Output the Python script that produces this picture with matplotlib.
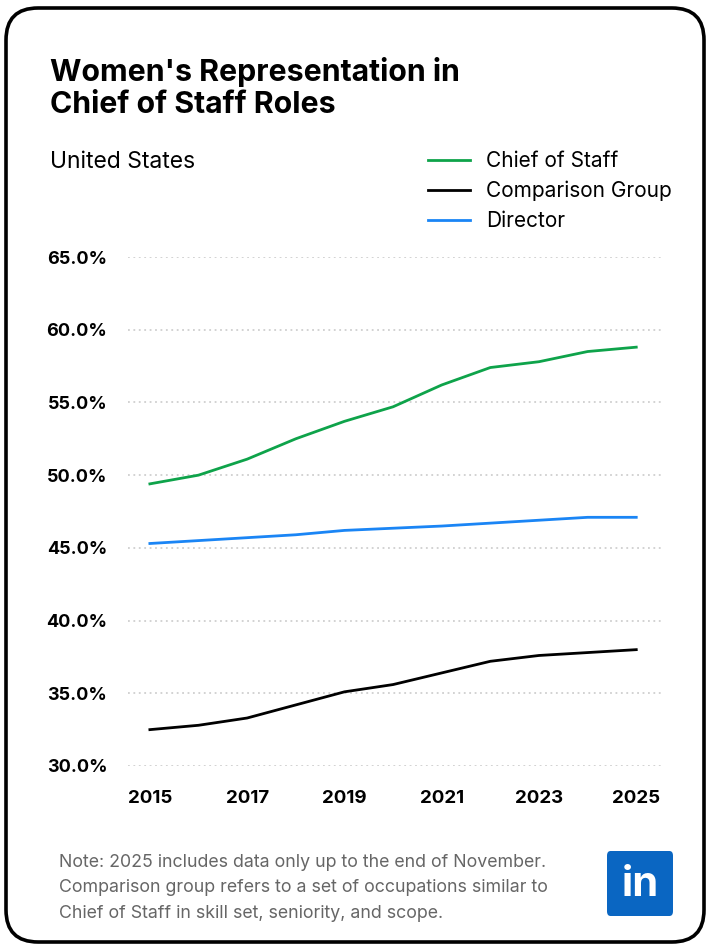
import matplotlib
matplotlib.use("Agg")
import matplotlib.pyplot as plt
from matplotlib.patches import FancyBboxPatch

years = [2015, 2016, 2017, 2018, 2019, 2020, 2021, 2022, 2023, 2024, 2025]
chief_of_staff = [49.4, 50.0, 51.1, 52.5, 53.7, 54.7, 56.2, 57.4, 57.8, 58.5, 58.8]
comparison_group = [32.5, 32.8, 33.3, 34.2, 35.1, 35.6, 36.4, 37.2, 37.6, 37.8, 38.0]
director = [45.3, 45.5, 45.7, 45.9, 46.2, 46.35, 46.5, 46.7, 46.9, 47.1, 47.1]
x_ticks = [2015, 2017, 2019, 2021, 2023, 2025]
y_ticks = [30, 35, 40, 45, 50, 55, 60, 65]

plt.rcParams['font.family'] = ['Inter', 'DejaVu Sans']

W, H = 713, 950
fig = plt.figure(figsize=(W / 100, H / 100), dpi=100)

# card border
card = FancyBboxPatch((6 / W, 8 / H), (W - 9) / W - 6 / W, (H - 6) / H - 8 / H - 2 / H,
                      boxstyle="round,pad=0,rounding_size=0.045",
                      transform=fig.transFigure, facecolor='white', edgecolor='black',
                      linewidth=2.6, mutation_aspect=W / H, zorder=-5)
fig.patches.append(card)

ax = fig.add_axes([128 / W, (H - 766) / H, (663 - 128) / W, (766 - 257) / H])
ax.set_facecolor('none')
ax.set_zorder(2)

ax.plot(years, chief_of_staff, color='#0EA34A', lw=2.0, label='Chief of Staff')
ax.plot(years, comparison_group, color='black', lw=2.0, label='Comparison Group')
ax.plot(years, director, color='#1A85F5', lw=2.0, label='Director')

ax.set_ylim(30, 65)
ax.set_xlim(2014.55, 2025.55)
ax.set_yticks(y_ticks)
ax.set_yticklabels([f"{v:.1f}%" for v in y_ticks], fontsize=13, fontweight='bold')
ax.set_xticks(x_ticks)
ax.set_xticklabels([str(v) for v in x_ticks], fontsize=13.5, fontweight='bold')
ax.tick_params(axis='y', length=0, pad=15)
ax.tick_params(axis='x', length=0, pad=17)
for s in ax.spines.values():
    s.set_visible(False)
ax.grid(axis='y', color='#cfcfcf', lw=1.3, linestyle=(0, (1, 2)))
ax.set_axisbelow(True)

leg = fig.legend(loc='upper left', bbox_to_anchor=(428 / W, (H - 151) / H), frameon=False,
                 fontsize=15, handlelength=2.0, handletextpad=0.8, labelspacing=0.47,
                 borderpad=0, borderaxespad=0)

fig.text(50 / W, (H - 57) / H, "Women's Representation in\nChief of Staff Roles",
         fontsize=21.8, fontweight='bold', va='top', ha='left', linespacing=1.2)
fig.text(50 / W, (H - 162) / H, "United States", fontsize=16.5, va='center', ha='left')

fig.text(59 / W, (H - 888) / H,
         "Note: 2025 includes data only up to the end of November.\n"
         "Comparison group refers to a set of occupations similar to\n"
         "Chief of Staff in skill set, seniority, and scope.",
         fontsize=12.8, color='#666666', va='center', ha='left', linespacing=1.63)

logo = FancyBboxPatch((607 / W, (H - 916) / H), 66 / W, 65 / H,
                      boxstyle="round,pad=0,rounding_size=0.005",
                      transform=fig.transFigure, facecolor='#0A66C2', edgecolor='none')
fig.patches.append(logo)
fig.text(640 / W, (H - 885) / H, "in", fontsize=30, fontweight='bold', color='white',
         ha='center', va='center')

fig.savefig('out.png', dpi=100)
